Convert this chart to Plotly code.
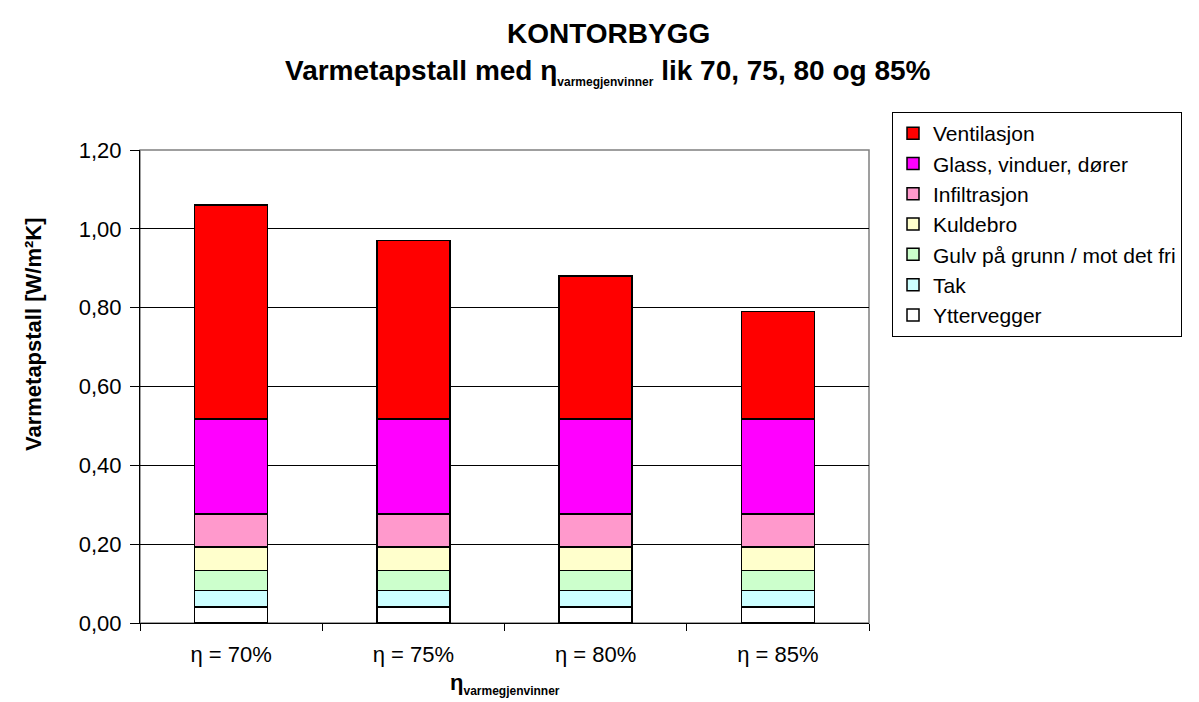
import plotly.graph_objects as go

categories = ["η = 70%", "η = 75%", "η = 80%", "η = 85%"]

yttervegger = [0.040, 0.040, 0.040, 0.040]
tak = [0.043, 0.043, 0.043, 0.043]
gulv = [0.050, 0.050, 0.050, 0.050]
kuldebro = [0.060, 0.060, 0.060, 0.060]
infiltrasjon = [0.084, 0.084, 0.084, 0.084]
glass = [0.240, 0.240, 0.240, 0.240]
ventilasjon = [0.544, 0.453, 0.363, 0.273]

series = [
    ("Yttervegger", yttervegger, "#FFFFFF"),
    ("Tak", tak, "#CCFFFF"),
    ("Gulv på grunn / mot det fri", gulv, "#CCFFCC"),
    ("Kuldebro", kuldebro, "#FFFFCC"),
    ("Infiltrasjon", infiltrasjon, "#FF99CC"),
    ("Glass, vinduer, dører", glass, "#FF00FF"),
    ("Ventilasjon", ventilasjon, "#FF0000"),
]

FONT = "Liberation Sans, Arial, sans-serif"
W, H = 1199, 702
L, R, T, B = 132, 861, 142, 615  # plot area in px


def px_x(x):
    return (x - L) / (R - L)


def px_y(y):
    return (B - y) / (B - T)


fig = go.Figure()
for name, vals, col in series:
    fig.add_trace(go.Bar(
        x=categories, y=vals, name=name, width=0.4,
        marker=dict(color=col, line=dict(color="#000000", width=1.5)),
    ))

# plot area frame (grey, Excel style)
fig.add_shape(type="rect", xref="paper", yref="paper", x0=0, y0=0, x1=1, y1=1,
              line=dict(color="#808080", width=1.5), layer="below")

# two-line title
fig.add_annotation(text="<b>KONTORBYGG</b>", xref="paper", yref="paper",
                   x=px_x(600), y=px_y(25), xanchor="center", yanchor="middle",
                   showarrow=False, font=dict(size=28))
fig.add_annotation(
    text="<b>Varmetapstall med η<sub><span style='font-size:12px'>varmegjenvinner</span></sub>"
         " lik 70, 75, 80 og 85%</b>",
    xref="paper", yref="paper", x=px_x(600), y=px_y(64),
    xanchor="center", yanchor="middle", showarrow=False, font=dict(size=28))

# axis titles
fig.add_annotation(
    text="<b>η<sub><span style='font-size:12px'>varmegjenvinner</span></sub></b>",
    xref="paper", yref="paper", x=0.5, y=px_y(676),
    xanchor="center", yanchor="middle", showarrow=False, font=dict(size=22))
fig.add_annotation(
    text="<b>Varmetapstall [W/m²K]</b>", textangle=-90,
    xref="paper", yref="paper", x=px_x(25), y=px_y(326),
    xanchor="center", yanchor="middle", showarrow=False, font=dict(size=22))

fig.update_layout(
    width=W, height=H,
    barmode="stack",
    separators=", ",
    paper_bgcolor="#FFFFFF", plot_bgcolor="#FFFFFF",
    font=dict(family=FONT, size=22, color="#000000"),
    margin=dict(l=L, r=W - R, t=T, b=H - B),
    legend=dict(
        traceorder="reversed",
        x=px_x(884), xanchor="left", y=px_y(104), yanchor="top",
        bordercolor="#000000", borderwidth=1,
        font=dict(size=21, family=FONT),
        tracegroupgap=0, itemwidth=30,
    ),
    showlegend=True,
)

fig.update_yaxes(
    range=[0, 1.2], dtick=0.2, tickformat=".2f",
    showgrid=True, gridcolor="#000000", gridwidth=1,
    showline=True, linecolor="#000000", linewidth=1,
    ticks="outside", ticklen=9, tickcolor="#000000", ticklabelstandoff=4,
    zeroline=False,
)
fig.update_xaxes(
    showline=True, linecolor="#000000", linewidth=1,
    ticks="outside", ticklen=7, tickcolor="#000000", tickson="boundaries",
    ticklabelstandoff=12,
)

fig.write_html("out.html")
